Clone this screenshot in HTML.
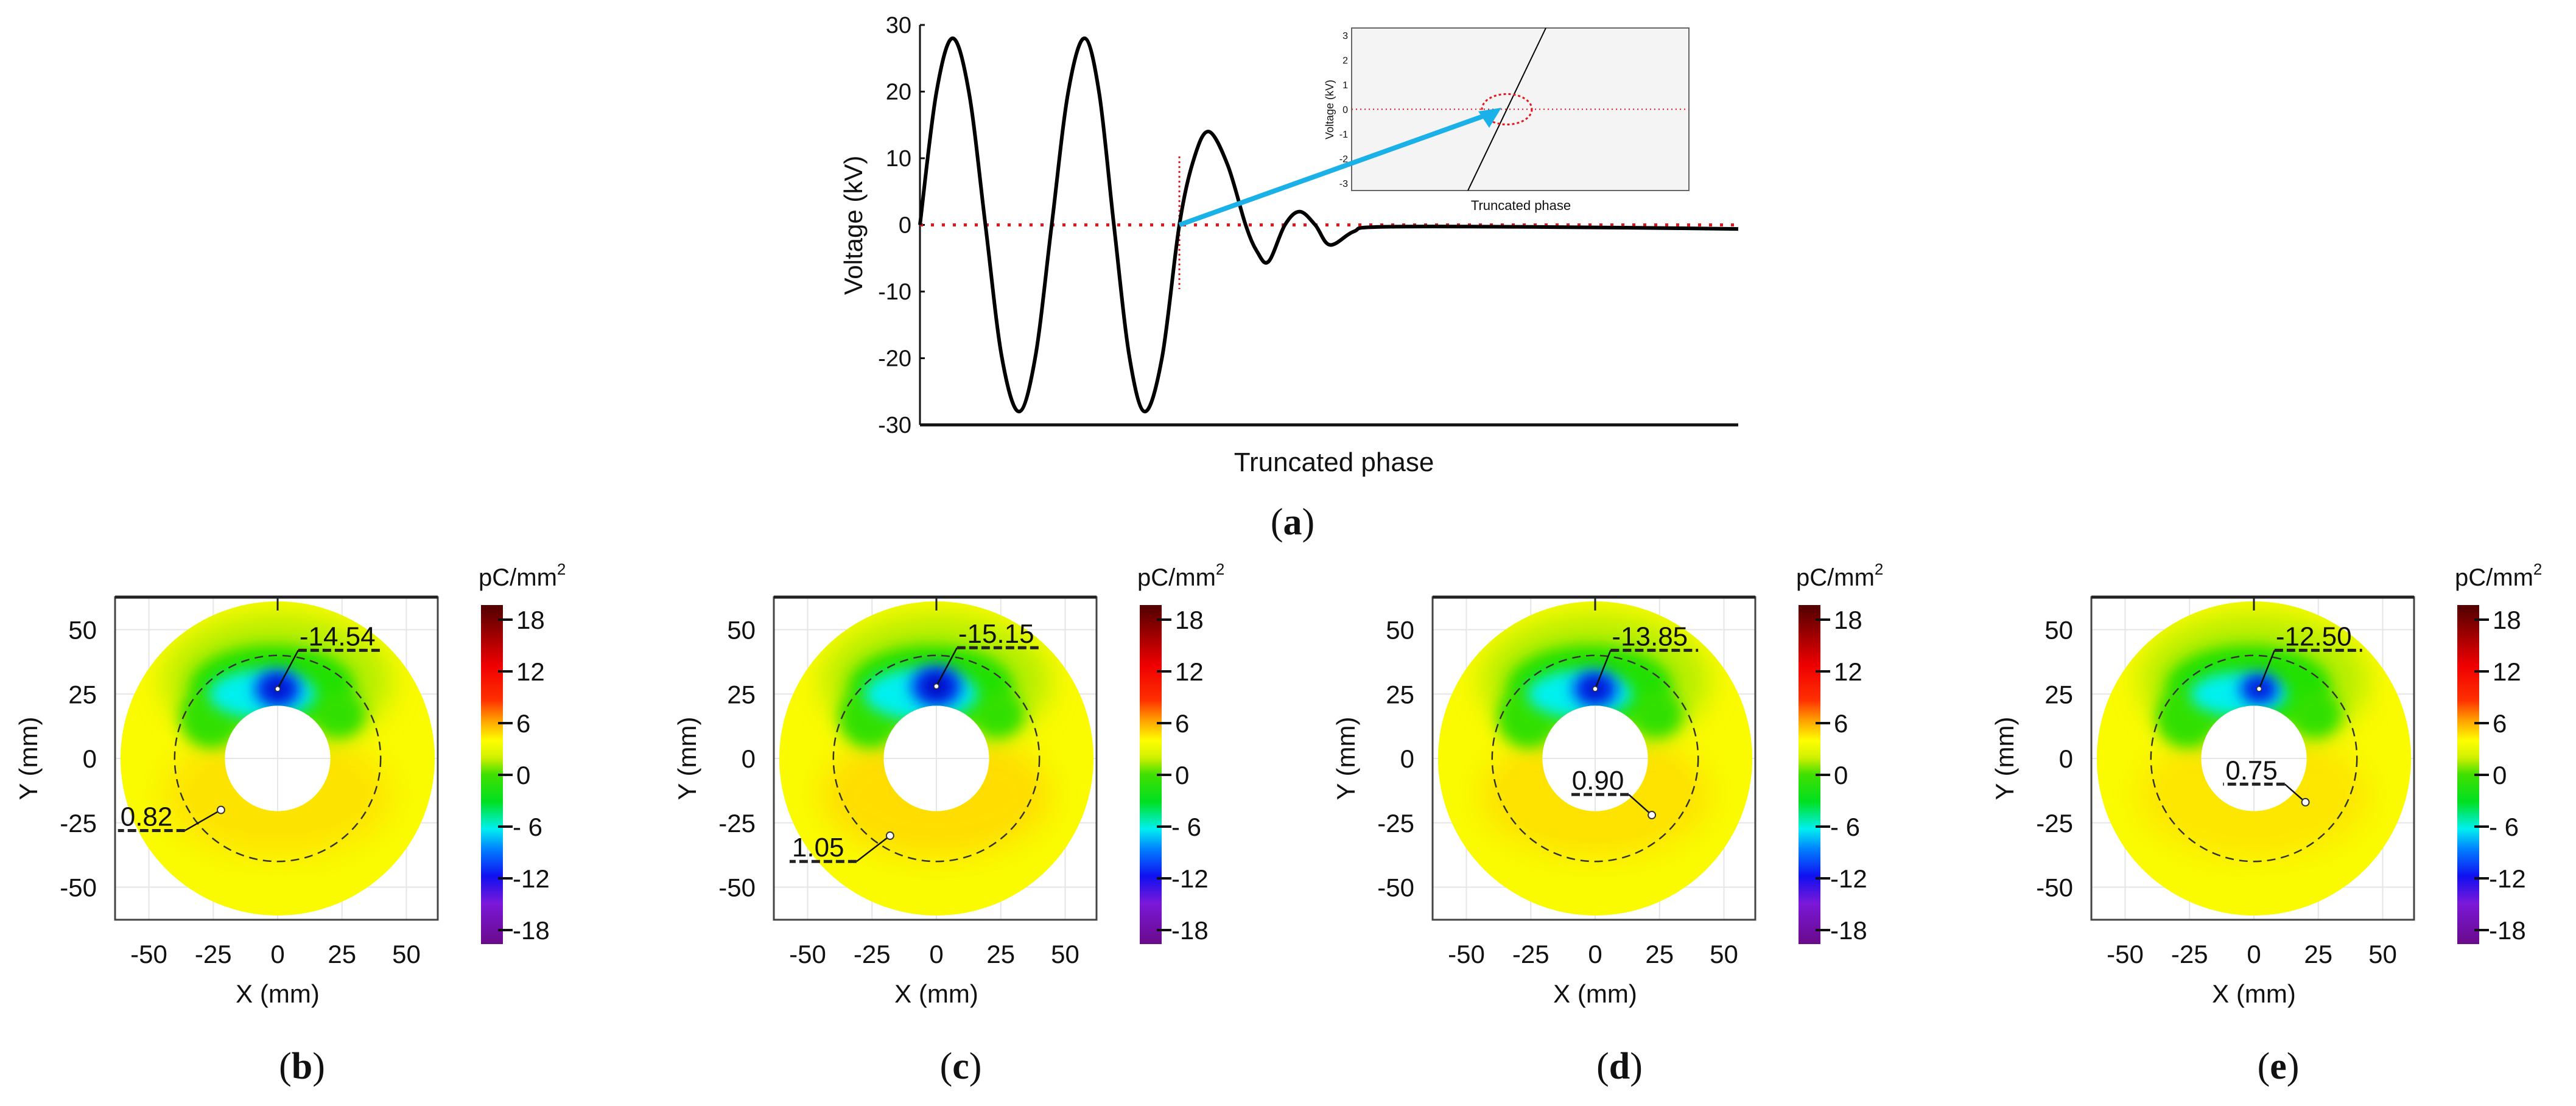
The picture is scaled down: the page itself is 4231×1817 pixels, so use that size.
<!DOCTYPE html>
<html><head><meta charset="utf-8"><style>
html,body{margin:0;padding:0;background:#fff;}
svg{display:block;}
text{font-family:"Liberation Sans",sans-serif;fill:#111;}
</style></head><body>
<svg id="fig" width="4231" height="1817" viewBox="0 0 4231 1817" xmlns="http://www.w3.org/2000/svg">
<defs>
  <linearGradient id="cbar" x1="0" y1="1" x2="0" y2="0">
    <stop offset="0" stop-color="#6a0a8a"/>
    <stop offset="0.12" stop-color="#7a18d8"/>
    <stop offset="0.2" stop-color="#1010f0"/>
    <stop offset="0.28" stop-color="#0080ff"/>
    <stop offset="0.34" stop-color="#00f0f0"/>
    <stop offset="0.42" stop-color="#00e020"/>
    <stop offset="0.5" stop-color="#40e000"/>
    <stop offset="0.55" stop-color="#d0f000"/>
    <stop offset="0.6" stop-color="#ffff00"/>
    <stop offset="0.66" stop-color="#ffa000"/>
    <stop offset="0.72" stop-color="#ff3000"/>
    <stop offset="0.82" stop-color="#f00000"/>
    <stop offset="1" stop-color="#500000"/>
  </linearGradient>
  <filter id="blur20" x="-50%" y="-50%" width="200%" height="200%"><feGaussianBlur stdDeviation="22"/></filter>
  <filter id="blur10" x="-50%" y="-50%" width="200%" height="200%"><feGaussianBlur stdDeviation="12"/></filter>
</defs>
<g id="main"></g>
<g id="panels"></g>
</svg>
<script>
// ---- Main chart data ----
const phaseX = [0,0.020,0.040,0.060,0.080,0.100,0.121,0.141,0.161,0.181,0.201,0.219,0.237,0.256,0.275,0.296,0.317,0.335,0.353,0.376,0.398,0.412,0.426,0.446,0.464,0.483,0.501,0.53,0.562,0.75,1.0];
const voltageV = [0,19.8,28,19.8,0,-19.8,-28,-19.8,0,19.8,28,19.8,0,-19.8,-28,-19.8,0,10,14,9,0,-4,-5.5,0,2,0,-3,-1,-0.3,-0.3,-0.6];
const yTicks = [30,20,10,0,-10,-20,-30];
const insetTicks = [3,2,1,0,-1,-2,-3];
const truncPhase = 0.317;

// ---- Panel data ----
const panelLetters = ['b','c','d','e'];
const minVals = ['-14.54','-15.15','-13.85','-12.50'];
const maxVals = ['0.82','1.05','0.90','0.75'];
const minStrength = [0.85,1.0,0.8,0.6];
const minPts = [[0,27],[0,28],[0,27],[2,27]];
const minElbows = [[8,42],[8,43],[6,42],[8,42]];
const minDashEnd = [40,40,40,42];
const maxPts = [[-22,-20],[-18,-30],[22,-22],[20,-17]];
const maxElbows = [[-36,-28],[-31,-40],[13,-14],[12,-10]];
const maxDashOther = [-62,-57,-10,-12];
const axisTicks = [-50,-25,0,25,50];
const cbarTicks = [18,12,6,0,-6,-12,-18];

const NS='http://www.w3.org/2000/svg';
function mk(tag, attrs, parent, txt){
  const e=document.createElementNS(NS,tag);
  for(const k in attrs) e.setAttribute(k,attrs[k]);
  if(txt!==undefined) e.textContent=txt;
  parent.appendChild(e); return e;
}

// ===== Main chart =====
const main=document.getElementById('main');
const X0=1511,X1=2855,YT=41,YB=698;
const xS=f=>X0+f*(X1-X0);
const yS=v=>YB-(v+30)/60*(YB-YT);

let ax=mk('line',{x1:X0,y1:YT,x2:X0,y2:YB,stroke:'#111','stroke-width':3},main);


let bx=mk('line',{x1:X0,y1:YB,x2:X1,y2:YB,stroke:'#111','stroke-width':5},main);


yTicks.forEach(t=>{
  const y=yS(t);
  let tl=mk('line',{x1:X0,y1:y,x2:X0+8,y2:y,stroke:'#111','stroke-width':3},main);
  
  
  let tx=mk('text',{x:X0-14,y:y+13,'text-anchor':'end','font-size':38},main,String(t));
  
  
});
let yt=mk('text',{x:0,y:0,'text-anchor':'middle','font-size':42,transform:`translate(1416,370) rotate(-90)`},main,'Voltage (kV)');


let xt=mk('text',{x:2191,y:774,'text-anchor':'middle','font-size':44},main,'Truncated phase');


let al=mk('text',{x:2123,y:878,'text-anchor':'middle','font-size':62,style:'font-family:"Liberation Serif",serif'},main,'');


al.innerHTML='(<tspan font-weight="bold">a</tspan>)';

let zl=mk('line',{x1:X0,y1:yS(0),x2:X1,y2:yS(0),stroke:'#e8141c','stroke-width':5,'stroke-dasharray':'5 13'},main);


let tv=mk('line',{x1:xS(truncPhase),y1:257,x2:xS(truncPhase),y2:475,stroke:'#e8141c','stroke-width':3,'stroke-dasharray':'3 5'},main);


const pts=phaseX.map((f,i)=>[xS(f),yS(voltageV[i])]);
let d=`M${pts[0][0]},${pts[0][1]}`;
for(let i=0;i<pts.length-1;i++){
  const p0=pts[Math.max(0,i-1)],p1=pts[i],p2=pts[i+1],p3=pts[Math.min(pts.length-1,i+2)];
  const c1=[p1[0]+(p2[0]-p0[0])/6,p1[1]+(p2[1]-p0[1])/6];
  const c2=[p2[0]-(p3[0]-p1[0])/6,p2[1]-(p3[1]-p1[1])/6];
  d+=` C${c1[0]},${c1[1]} ${c2[0]},${c2[1]} ${p2[0]},${p2[1]}`;
}
let cv=mk('path',{d:d,fill:'none',stroke:'#000','stroke-width':6,'stroke-linejoin':'round'},main);



const IX0=2220,IX1=2774,IY0=46,IY1=313;
const iy=v=>IY1-(v+3.3)/6.6*(IY1-IY0);
let ib=mk('rect',{x:IX0,y:IY0,width:IX1-IX0,height:IY1-IY0,fill:'#f4f4f4',stroke:'#666','stroke-width':2},main);


insetTicks.forEach(t=>{
  let tx=mk('text',{x:IX0-6,y:iy(t)+6,'text-anchor':'end','font-size':16},main,String(t));
  
  
});
let iyl=mk('text',{x:0,y:0,'text-anchor':'middle','font-size':18,transform:`translate(2190,180) rotate(-90)`},main,'Voltage (kV)');


let ixl=mk('text',{x:2498,y:345,'text-anchor':'middle','font-size':22},main,'Truncated phase');


let iz=mk('line',{x1:IX0,y1:iy(0),x2:IX1,y2:iy(0),stroke:'#e8141c','stroke-width':2,'stroke-dasharray':'2 5'},main);


let il=mk('line',{x1:2539,y1:IY0,x2:2411,y2:IY1,stroke:'#000','stroke-width':2},main);


let ie=mk('ellipse',{cx:2475,cy:iy(0),rx:41,ry:25,fill:'none',stroke:'#e8141c','stroke-width':3,'stroke-dasharray':'4 4'},main);


let ar=mk('line',{x1:xS(truncPhase),y1:yS(0),x2:2440,y2:iy(0)+10,stroke:'#1ab0e8','stroke-width':8},main);


let ah=mk('polygon',{points:'2466,177 2428,183 2446,210',fill:'#1ab0e8'},main);



// ===== Panels =====
const panels=document.getElementById('panels');
const K=4.23, TOP=981, SIZE=530;
const cbY=v=>1273-v/18*255;
panelLetters.forEach((letter,i)=>{
  const L=189+i*1082, cx=L+267, cy=TOP+265;
  const px=mm=>cx+mm*K, py=mm=>cy-mm*K;
  const g=mk('g',{},panels);
  
  
  axisTicks.forEach(t=>{
    mk('line',{x1:px(t),y1:TOP,x2:px(t),y2:TOP+SIZE,stroke:'#e6e6e6','stroke-width':2},g);
    mk('line',{x1:L,y1:py(t),x2:L+SIZE,y2:py(t),stroke:'#e6e6e6','stroke-width':2},g);
  });
  const cid='ann'+i;
  const cp=mk('clipPath',{id:cid},g);
  mk('path',{d:`M${cx-61*K},${cy} a${61*K},${61*K} 0 1,0 ${122*K},0 a${61*K},${61*K} 0 1,0 ${-122*K},0 Z M${cx-20.5*K},${cy} a${20.5*K},${20.5*K} 0 1,0 ${41*K},0 a${20.5*K},${20.5*K} 0 1,0 ${-41*K},0 Z`,'clip-rule':'evenodd'},cp);
  const hm=mk('g',{'clip-path':`url(#${cid})`},g);
  
  
  const s=minStrength[i];
  mk('rect',{x:L,y:TOP,width:SIZE,height:SIZE,fill:'#fafa00'},hm);
  mk('ellipse',{cx:px(0),cy:py(-14),rx:44*K,ry:24*K,fill:'#ffd800',filter:'url(#blur20)',opacity:0.55+0.3*(parseFloat(maxVals[i])-0.7)/0.35},hm);
  mk('ellipse',{cx:px(0),cy:py(30),rx:44*K,ry:26*K,fill:'#b4ee00',filter:'url(#blur20)'},hm);
  mk('ellipse',{cx:px(-2),cy:py(28),rx:32*K,ry:16*K,fill:'#20e000',filter:'url(#blur10)'},hm);
  mk('ellipse',{cx:px(-26),cy:py(16),rx:12*K,ry:12*K,fill:'#30e000',filter:'url(#blur10)'},hm);
  mk('ellipse',{cx:px(24),cy:py(17),rx:10*K,ry:9*K,fill:'#30e000',filter:'url(#blur10)'},hm);
  mk('ellipse',{cx:px(-6),cy:py(25),rx:(14+8*s)*K,ry:(6+4*s)*K,fill:'#00f0f0',filter:'url(#blur10)'},hm);
  mk('ellipse',{cx:px(minPts[i][0]),cy:py(minPts[i][1]),rx:(4+6*s)*K,ry:(3+5*s)*K,fill:'#0030f0',filter:'url(#blur10)'},hm);
  mk('ellipse',{cx:px(minPts[i][0]),cy:py(minPts[i][1]),rx:(1+3*s)*K,ry:(1+3*s)*K,fill:'#0000b0',filter:'url(#blur10)',opacity:s},hm);
  let dc=mk('circle',{cx:cx,cy:cy,r:40*K,fill:'none',stroke:'#333','stroke-width':2.5,'stroke-dasharray':'14 9'},g);
  
  
  let bxr=mk('rect',{x:L,y:TOP,width:SIZE,height:SIZE,fill:'none',stroke:'#444','stroke-width':3},g);
  
  
  mk('line',{x1:L,y1:TOP,x2:L+SIZE,y2:TOP,stroke:'#222','stroke-width':5},g);
  mk('line',{x1:cx,y1:TOP,x2:cx,y2:TOP+22,stroke:'#222','stroke-width':3},g);
  axisTicks.forEach(t=>{
    let a=mk('text',{x:L-30,y:py(t)+15,'text-anchor':'end','font-size':42},g,String(t));
    
    
    let b=mk('text',{x:px(t),y:1582,'text-anchor':'middle','font-size':42},g,String(t));
    
    
  });
  let yl=mk('text',{x:0,y:0,'text-anchor':'middle','font-size':42,transform:`translate(${L-128},${cy}) rotate(-90)`},g,'Y (mm)');
  
  
  let xl=mk('text',{x:cx,y:1647,'text-anchor':'middle','font-size':42},g,'X (mm)');
  
  
  let pl=mk('text',{x:cx+40,y:1772,'text-anchor':'middle','font-size':62,style:'font-family:"Liberation Serif",serif'},g,'');
  
  
  pl.innerHTML='(<tspan font-weight="bold">'+letter+'</tspan>)';
  const CB=L+601;
  let cb=mk('rect',{x:CB,y:994,width:36,height:557,fill:'url(#cbar)'},g);
  
  
  cbarTicks.forEach(t=>{
    mk('line',{x1:CB+28,y1:cbY(t),x2:CB+52,y2:cbY(t),stroke:'#111','stroke-width':4},g);
    let c=mk('text',{x:CB+(t<0?52:58),y:cbY(t)+15,'font-size':42},g,t<0?String(t).replace('-','- ').replace('- 1','-1'):String(t));
    
    
  });
  let u=mk('text',{x:CB-4,y:962,'font-size':40},g,'');
  
  
  u.innerHTML='pC/mm<tspan dy="-18" font-size="26">2</tspan>';
  const mp=minPts[i], me=minElbows[i];
  mk('line',{x1:px(mp[0]),y1:py(mp[1]),x2:px(me[0]),y2:py(me[1]),stroke:'#111','stroke-width':2.5},g);
  mk('line',{x1:px(me[0]),y1:py(me[1]),x2:px(minDashEnd[i]),y2:py(me[1]),stroke:'#222','stroke-width':5,'stroke-dasharray':'14 6'},g);
  mk('circle',{cx:px(mp[0]),cy:py(mp[1]),r:4,fill:'#fff',stroke:'#333','stroke-width':1.5},g);
  let mt=mk('text',{x:px(me[0])+2,y:py(me[1])-8,'font-size':44},g,minVals[i]);
  
  
  const xp=maxPts[i], xe=maxElbows[i];
  mk('line',{x1:px(xp[0]),y1:py(xp[1]),x2:px(xe[0]),y2:py(xe[1]),stroke:'#111','stroke-width':2.5},g);
  mk('line',{x1:px(xe[0]),y1:py(xe[1]),x2:px(maxDashOther[i]),y2:py(xe[1]),stroke:'#222','stroke-width':5,'stroke-dasharray':'14 6'},g);
  mk('circle',{cx:px(xp[0]),cy:py(xp[1]),r:6,fill:'#fff',stroke:'#333','stroke-width':2},g);
  let xtx=mk('text',{x:px(Math.min(xe[0],maxDashOther[i]))+4,y:py(xe[1])-8,'font-size':44},g,maxVals[i]);
  
  
});
</script>
</body></html>
